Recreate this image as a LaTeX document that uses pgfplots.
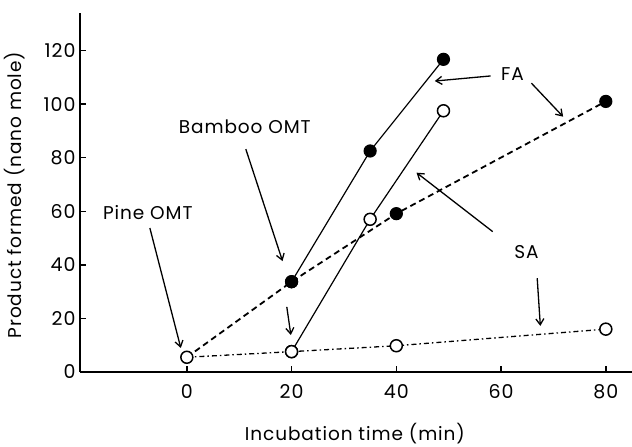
\documentclass[border=0pt]{standalone}
\usepackage{pgfplots}
\pgfplotsset{compat=1.18}
\usepackage{fontspec}
\setmainfont{Poppins}[LetterSpace=5]
\usetikzlibrary{arrows.meta}

\begin{document}
\begin{tikzpicture}
\begin{axis}[
  at={(0,0)}, anchor=south west, scale only axis,
  width=552pt, height=359pt,
  xmin=-20.4, xmax=85, ymin=0, ymax=134,
  axis lines=left,
  axis line style={line width=1.5pt, -},
  tick align=inside,
  major tick length=6pt,
  tick style={line width=1.5pt, black},
  xtick={0,20,40,60,80},
  ytick={0,20,40,60,80,100,120},
  every tick label/.append style={font=\fontsize{19}{21}\selectfont},
  /pgf/number format/assume math mode=true,
  xticklabel style={yshift=-9pt},
  yticklabel style={xshift=-1pt},
  xlabel={Incubation time (min)},
  ylabel={Product formed (nano mole)},
  label style={font=\fontsize{18.5}{20}\selectfont},
  xlabel style={at={(axis description cs:0.498,-0.172)}, anchor=center, inner sep=0pt},
  ylabel style={at={(axis description cs:-0.118,0.493)}, anchor=center},
  clip=false,
]
% Pine OMT, FA (dashed, filled marks)
\addplot[black, line width=1.8pt, dash pattern=on 6pt off 4pt,
  mark=*, mark indices={2,3,4}, mark size=6pt,
  mark options={solid, fill=black, line width=1.2pt}]
  coordinates {(0,5.5) (20,33.7) (40,59.1) (80,101)};
% Bamboo OMT, FA (solid, filled marks)
\addplot[black, line width=1.2pt, mark=*, mark size=6pt,
  mark options={solid, fill=black, line width=1.2pt}]
  coordinates {(20,33.7) (35,82.5) (49,116.7)};
% Bamboo OMT, SA (solid, open marks)
\addplot[black, line width=1.2pt, mark=*, mark size=6pt,
  mark options={solid, fill=white, line width=1.5pt}]
  coordinates {(20,7.6) (35,57) (49,97.5)};
% Pine OMT, SA (dash-dot, open marks)
\addplot[black, line width=1.3pt, dash pattern=on 5pt off 3pt on 1.5pt off 3pt,
  mark=*, mark size=6pt,
  mark options={solid, fill=white, line width=1.5pt}]
  coordinates {(0,5.5) (20,7.6) (40,9.8) (80,16)};

% annotations
\tikzset{lab/.style={font=\fontsize{18.5}{20}\selectfont}}
\node[lab] at (axis cs:-7.45,59.4) {Pine OMT};
\node[lab] at (axis cs:11.07,91.5) {Bamboo OMT};
\node[lab] at (axis cs:62.2,111.2) {FA};
\node[lab] at (axis cs:64.86,44.8) {SA};

\tikzset{ann/.style={line width=1.3pt, -{Straight Barb[length=6pt,width=8pt]}}}
\draw[ann] (axis cs:-7.06,53.75) -- (axis cs:-1.15,8.96);
\draw[ann] (axis cs:11.26,83.2) -- (axis cs:18.27,41.4);
\draw[ann] (axis cs:19.09,24.3) -- (axis cs:19.86,13.8);
\draw[ann] (axis cs:57.99,110.5) -- (axis cs:47.35,108.6);
\draw[ann] (axis cs:65.8,107.8) -- (axis cs:71.85,95.3);
\draw[ann] (axis cs:66.9,35.0) -- (axis cs:67.5,17.2);
\draw[ann] (axis cs:58.4,52.4) -- (axis cs:43.86,74.4);
\end{axis}
\pgfresetboundingbox
\path (-80pt,-75pt) rectangle (552pt,372pt);
\end{tikzpicture}
\end{document}
